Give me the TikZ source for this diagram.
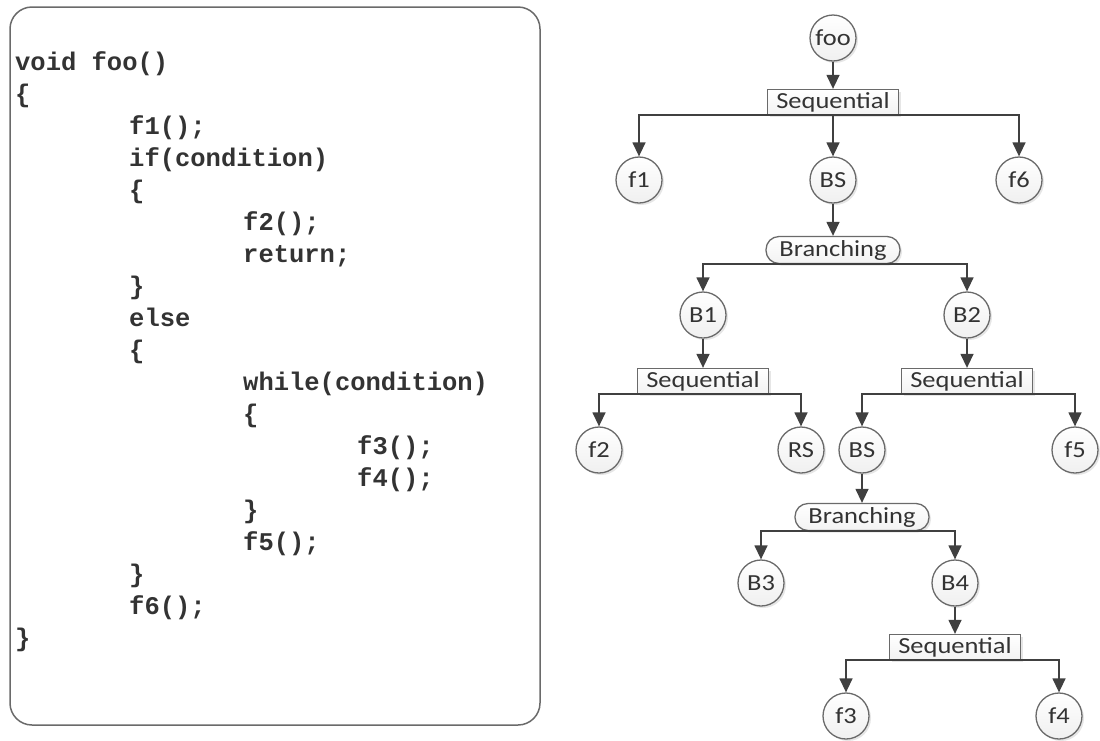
\documentclass[tikz,border=0pt]{standalone}
\usepackage{fontspec}
\setmainfont{Carlito}[FakeStretch=1.15]
\newfontfamily\codefont{Liberation Mono}
\usetikzlibrary{arrows.meta,shadows}
\definecolor{linegray}{HTML}{404040}
\definecolor{edgegray}{HTML}{6A6A6A}
\definecolor{textgray}{HTML}{333333}
\tikzset{
  lbl/.style={font={\fontsize{23}{27}\selectfont},text=textgray},
  fn/.style={lbl,circle,draw=edgegray,line width=1.3pt,minimum size=46pt,inner sep=0pt,
    top color=white,bottom color=gray!12,
    drop shadow={shadow xshift=2pt,shadow yshift=-2pt,opacity=0.2}},
  seqbox/.style={lbl,rectangle,draw=edgegray,line width=1.3pt,minimum width=131pt,minimum height=25pt,inner sep=0pt,
    top color=white,bottom color=gray!10,
    drop shadow={shadow xshift=2pt,shadow yshift=-2pt,opacity=0.2}},
  brbox/.style={seqbox,rounded corners=13pt,minimum width=134pt,minimum height=27pt},
  arr/.style={-{Triangle[length=14pt,width=13pt]},draw=linegray,line width=1.4pt},
  codeline/.style={anchor=base west,inner sep=0pt,text=textgray,
    font={\codefont\bfseries\fontsize{25.5}{30}\selectfont}}
}
\begin{document}
\begin{tikzpicture}[x=1pt,y=-1pt]
\useasboundingbox (0,0) rectangle (1100,740);
% source code
\draw[draw=edgegray,line width=1.5pt,rounded corners=22pt] (10,7) rectangle (540,725);
\foreach \ln/\ind/\txt in {0/0/{void foo()},1/0/{\{},2/1/{f1();},3/1/{if(condition)},
    4/1/{\{},5/2/{f2();},6/2/{return;},7/1/{\}},8/1/{else},9/1/{\{},
    10/2/{while(condition)},11/2/{\{},12/3/{f3();},13/3/{f4();},14/2/{\}},
    15/2/{f5();},16/1/{\}},17/1/{f6();},18/0/{\}}}
  \node[codeline] (l\ln) at ({15+114*\ind},{70+32*\ln}) {\txt};
% tree
\node[fn] (foo) at (833,38) {foo};
\node[seqbox] (seq1) at (833,102) {Sequential};
\node[fn] (f1) at (639,180) {f1};
\node[fn] (bs1) at (833,180) {BS};
\node[fn] (f6) at (1019,180) {f6};
\node[brbox] (br1) at (833,250) {Branching};
\node[fn] (b1) at (703,315) {B1};
\node[fn] (b2) at (967,315) {B2};
\node[seqbox] (seq2) at (703,381) {Sequential};
\node[seqbox] (seq3) at (967,381) {Sequential};
\node[fn] (f2) at (599,450) {f2};
\node[fn] (rs) at (801,450) {RS};
\node[fn] (bs2) at (862,450) {BS};
\node[fn] (f5) at (1075,450) {f5};
\node[brbox] (br2) at (862,517) {Branching};
\node[fn] (b3) at (761,583) {B3};
\node[fn] (b4) at (955,583) {B4};
\node[seqbox] (seq4) at (955,647) {Sequential};
\node[fn] (f3) at (846,716) {f3};
\node[fn] (f4) at (1059,716) {f4};
\draw[arr] (foo) -- (seq1);
\draw[arr] (seq1.south) -| (f1);
\draw[arr] (seq1) -- (bs1);
\draw[arr] (seq1.south) -| (f6);
\draw[arr] (bs1) -- (br1);
\draw[arr] (br1.south) -| (b1);
\draw[arr] (br1.south) -| (b2);
\draw[arr] (b1) -- (seq2);
\draw[arr] (b2) -- (seq3);
\draw[arr] (seq2.south) -| (f2);
\draw[arr] (seq2.south) -| (rs);
\draw[arr] (seq3.south) -| (bs2);
\draw[arr] (seq3.south) -| (f5);
\draw[arr] (bs2) -- (br2);
\draw[arr] (br2.south) -| (b3);
\draw[arr] (br2.south) -| (b4);
\draw[arr] (b4) -- (seq4);
\draw[arr] (seq4.south) -| (f3);
\draw[arr] (seq4.south) -| (f4);
\end{tikzpicture}
\end{document}
